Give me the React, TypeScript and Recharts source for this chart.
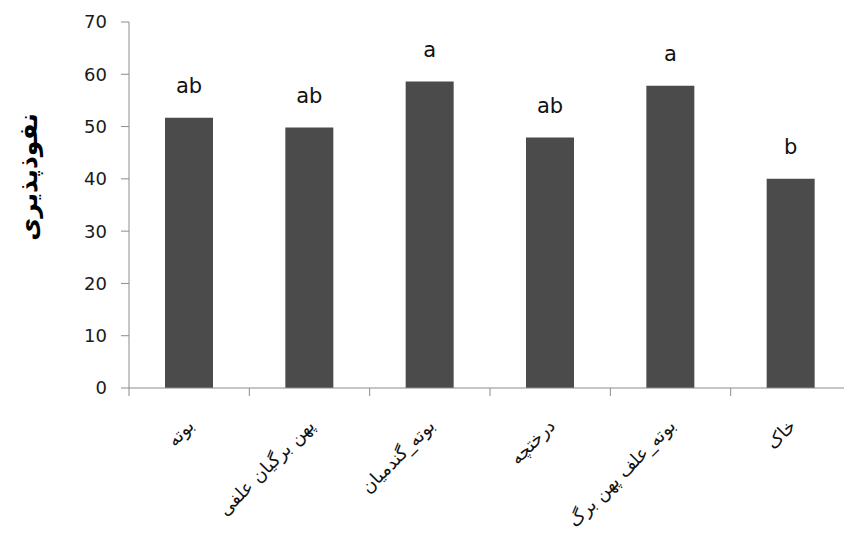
import React from 'react';
import { BarChart, Bar, XAxis, YAxis, LabelList } from 'recharts';

const categories = ['بوته', 'پهن برگیان علفی', 'بوته_گندمیان', 'درختچه', 'بوته_علف پهن برگ', 'خاک'];
const permeability = [51.7, 49.8, 58.6, 47.9, 57.8, 40];
const groupLetters = ['ab', 'ab', 'a', 'ab', 'a', 'b'];
const yTicks = [0, 10, 20, 30, 40, 50, 60, 70];

const data = categories.map((name, i) => ({
  name,
  value: permeability[i],
  letter: groupLetters[i],
}));

const AXIS = '#8c8c8c';
const FONT = '"DejaVu Sans", sans-serif';

// Category tick: boundary tick marks (Excel style) plus a label rotated -45deg
const CategoryTick = ({ x, y, width, payload, index, visibleTicksCount }: any) => {
  const band = width / (visibleTicksCount || categories.length);
  return (
    <g>
      {index === 0 && <line x1={x - band / 2} y1={y} x2={x - band / 2} y2={y + 8} stroke={AXIS} />}
      <line x1={x + band / 2} y1={y} x2={x + band / 2} y2={y + 8} stroke={AXIS} />
      <g transform={`translate(${x + 6},${y + 39})`}>
        <text transform="rotate(-45)" textAnchor="end" fontSize={18} fontFamily={FONT} fill="#111">
          {payload.value}
        </text>
      </g>
    </g>
  );
};

const YTitle = ({ viewBox }: any) => {
  const cx = viewBox.x + 37;
  const cy = viewBox.y + viewBox.height / 2 - 28;
  return (
    <text
      x={cx}
      y={cy}
      transform={`rotate(-90, ${cx}, ${cy})`}
      textAnchor="middle"
      fontSize={25}
      fontWeight="bold"
      fontFamily={FONT}
      fill="#000"
    >
      نفوذپذیری
    </text>
  );
};

export default function App() {
  return (
    <div style={{ position: 'fixed', left: 0, top: 0, width: 844, height: 547, overflow: 'hidden', background: '#fff' }}>
      <BarChart width={870} height={547} data={data} margin={{ top: 22, right: 19, left: 0, bottom: 0 }}>
        <XAxis
          dataKey="name"
          height={159}
          interval={0}
          tickSize={0}
          tickMargin={0}
          tickLine={false}
          axisLine={{ stroke: AXIS }}
          tick={<CategoryTick />}
        />
        <YAxis
          width={129}
          domain={[0, 70]}
          ticks={yTicks}
          interval={0}
          tickSize={8}
          tickMargin={14}
          axisLine={{ stroke: AXIS }}
          tickLine={{ stroke: AXIS }}
          tick={{ fontSize: 18, fontFamily: FONT, fill: '#1a1a1a' }}
          label={<YTitle />}
        />
        <Bar dataKey="value" fill="#4b4b4b" barSize={48} isAnimationActive={false}>
          <LabelList dataKey="letter" position="top" offset={25} fontSize={21} fontFamily={FONT} fill="#111" />
        </Bar>
      </BarChart>
    </div>
  );
}
